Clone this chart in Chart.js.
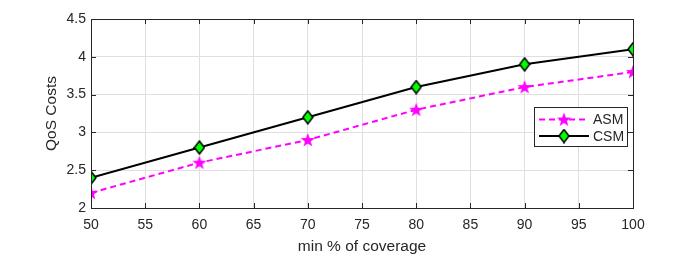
<!DOCTYPE html>
<html>
<head>
<meta charset="utf-8">
<script src="https://cdn.jsdelivr.net/npm/chart.js@4"></script>
<style>
  html, body { margin: 0; padding: 0; background: #fff; }
  canvas { display: block; }
</style>
</head>
<body>
<canvas id="chart" width="700" height="256"></canvas>
<script>
// coverage levels and the two cost series
const coverage = [50, 60, 70, 80, 90, 100];
const asmCosts = [2.2, 2.6, 2.9, 3.3, 3.6, 3.8];
const csmCosts = [2.4, 2.8, 3.2, 3.6, 3.9, 4.1];
const seriesNames = ['ASM', 'CSM'];
const xTitle = 'min % of coverage';
const yTitle = 'QoS Costs';

const ink = '#262626';
const gridGray = '#dfdfdf';
const font = 'Liberation Sans, Arial, Helvetica, sans-serif';

// MATLAB-like markers drawn once to small canvases
function makeStar() {
  const c = document.createElement('canvas');
  c.width = 16; c.height = 16;
  const g = c.getContext('2d');
  const R = 7.5, r = R * 0.4;
  g.beginPath();
  for (let i = 0; i < 10; i++) {
    const a = -Math.PI / 2 + i * Math.PI / 5;
    const rr = i % 2 ? r : R;
    g.lineTo(8 + rr * Math.cos(a), 8.5 + rr * Math.sin(a));
  }
  g.closePath();
  g.fillStyle = '#ff00ff';
  g.fill();
  return c;
}
function makeDiamond() {
  const c = document.createElement('canvas');
  c.width = 12; c.height = 15;
  const g = c.getContext('2d');
  g.beginPath();
  g.moveTo(6, 1); g.lineTo(11, 7.5); g.lineTo(6, 14); g.lineTo(1, 7.5);
  g.closePath();
  g.fillStyle = '#00ff00';
  g.fill();
  g.lineWidth = 1.5;
  g.strokeStyle = '#000';
  g.stroke();
  return c;
}
const starImg = makeStar();
const diamondImg = makeDiamond();

// box, inward ticks and the legend, matlab style
const matlabFrame = {
  id: 'matlabFrame',
  afterDraw(chart) {
    const { ctx, chartArea: a, scales } = chart;
    ctx.save();
    ctx.strokeStyle = ink;
    ctx.lineWidth = 1;
    ctx.strokeRect(Math.round(a.left) + 0.5, Math.round(a.top) + 0.5,
      Math.round(a.right - a.left), Math.round(a.bottom - a.top));
    ctx.beginPath();
    scales.x.ticks.forEach(t => {
      const px = Math.round(scales.x.getPixelForValue(t.value)) + 0.5;
      ctx.moveTo(px, a.bottom); ctx.lineTo(px, a.bottom - 5);
      ctx.moveTo(px, a.top); ctx.lineTo(px, a.top + 5);
    });
    scales.y.ticks.forEach(t => {
      const py = Math.round(scales.y.getPixelForValue(t.value)) + 0.5;
      ctx.moveTo(a.left, py); ctx.lineTo(a.left + 5, py);
      ctx.moveTo(a.right, py); ctx.lineTo(a.right - 5, py);
    });
    ctx.stroke();

    // legend
    const lx = 534, ly = 107, lw = 93, lh = 39;
    ctx.fillStyle = '#fff';
    ctx.fillRect(lx, ly, lw, lh);
    ctx.strokeStyle = ink;
    ctx.strokeRect(lx + 0.5, ly + 0.5, lw, lh);
    const rows = [
      { y: ly + 12.5, color: '#ff00ff', dash: [6, 4], img: starImg },
      { y: ly + 29, color: '#000', dash: [], img: diamondImg }
    ];
    ctx.font = '14px ' + font;
    ctx.textBaseline = 'middle';
    rows.forEach((r, i) => {
      ctx.beginPath();
      ctx.setLineDash(r.dash);
      ctx.strokeStyle = r.color;
      ctx.lineWidth = 2;
      ctx.moveTo(lx + 5, r.y); ctx.lineTo(lx + 55, r.y);
      ctx.stroke();
      ctx.setLineDash([]);
      ctx.drawImage(r.img, lx + 30 - r.img.width / 2, r.y - r.img.height / 2);
      ctx.fillStyle = ink;
      ctx.fillText(chart.data.datasets[i].label, lx + 59, r.y + 1);
    });
    ctx.restore();
  }
};

new Chart(document.getElementById('chart'), {
  type: 'line',
  data: {
    datasets: [
      {
        label: seriesNames[0],
        data: coverage.map((x, i) => ({ x, y: asmCosts[i] })),
        borderColor: '#ff00ff',
        borderWidth: 2,
        borderDash: [6, 4],
        pointStyle: starImg,
        pointRadius: 7,
        tension: 0
      },
      {
        label: seriesNames[1],
        data: coverage.map((x, i) => ({ x, y: csmCosts[i] })),
        borderColor: '#000',
        borderWidth: 2,
        pointStyle: diamondImg,
        pointRadius: 7,
        tension: 0
      }
    ]
  },
  options: {
    responsive: false,
    animation: false,
    layout: { padding: { left: 42, right: 67, top: 19, bottom: 0 } },
    plugins: { legend: { display: false }, tooltip: { enabled: false } },
    scales: {
      x: {
        type: 'linear', min: 50, max: 100,
        afterFit(s) { s.height = 48; },
        border: { display: false },
        grid: { color: gridGray, drawTicks: false },
        ticks: { stepSize: 5, color: ink, padding: 9, font: { family: font, size: 14 } },
        title: { display: true, text: xTitle, color: ink, padding: { top: 3, bottom: 0 }, font: { family: font, size: 15.5 } }
      },
      y: {
        type: 'linear', min: 2, max: 4.5,
        afterFit(s) { s.width = 49; },
        border: { display: false },
        grid: { color: gridGray, drawTicks: false },
        ticks: {
          stepSize: 0.5, color: ink, padding: 5, font: { family: font, size: 14 },
          callback: v => String(v)
        },
        title: { display: true, text: yTitle, color: ink, padding: { top: 0, bottom: 0 }, font: { family: font, size: 15.5 } }
      }
    }
  },
  plugins: [matlabFrame]
});
</script>
</body>
</html>
